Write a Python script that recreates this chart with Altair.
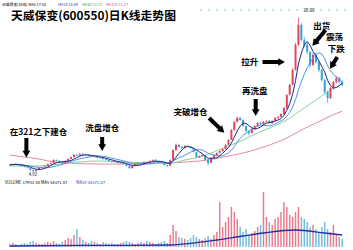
import altair as alt
import pandas as pd

FONT = "Noto Sans CJK SC"

# ---------------- data ----------------
closes = [5.97,6.12,6.05,5.97,5.82,5.67,5.52,5.22,5.07,5.22,
          5.52,5.67,5.82,6.12,6.27,6.72,6.57,6.42,6.27,6.57,
          6.87,7.17,7.47,7.38,7.62,7.47,7.55,7.32,7.17,7.22,
          7.02,7.08,6.87,6.72,6.57,6.42,6.50,6.27,6.33,6.12,
          5.82,5.52,5.82,6.12,6.27,6.20,6.42,6.38,6.57,6.72,
          6.57,6.42,6.27,5.97,5.82,6.72,8.22,8.97,8.67,8.52,
          8.82,8.75,8.52,7.92,7.17,7.32,7.47,6.72,6.27,7.02,
          7.47,7.77,8.07,8.37,8.97,9.72,11.22,12.42,13.02,12.72,
          11.82,11.07,10.77,11.37,11.82,12.27,12.12,12.42,12.57,12.27,
          12.57,13.02,13.17,13.62,14.52,16.47,17.97,20.22,23.97,26.97,
          24.72,23.97,22.92,20.97,22.47,21.42,20.22,18.72,16.92,16.02,
          17.52,18.42,19.02,18.42,17.97]
opens = [6.05,5.95,6.18,6.10,5.98,5.80,5.62,5.50,5.20,5.05,
         5.25,5.55,5.70,5.85,6.15,6.30,6.70,6.60,6.45,6.30,
         6.55,6.90,7.15,7.50,7.40,7.65,7.45,7.52,7.35,7.15,
         7.20,7.00,7.05,6.90,6.75,6.55,6.40,6.52,6.25,6.30,
         6.10,5.85,5.50,5.85,6.10,6.30,6.22,6.45,6.40,6.55,
         6.75,6.55,6.45,6.25,5.95,5.85,6.75,8.20,9.00,8.70,
         8.50,8.85,8.75,8.50,7.90,7.15,7.30,7.45,6.75,6.30,
         7.00,7.45,7.80,8.05,8.35,9.00,9.75,11.20,12.45,13.05,
         12.70,11.80,11.05,10.80,11.35,11.80,12.30,12.10,12.45,12.60,
         12.25,12.60,13.00,13.20,13.60,14.55,16.50,18.00,20.30,24.00,
         27.00,24.70,24.00,22.90,21.00,22.50,21.40,20.20,18.70,16.90,
         16.00,17.50,18.40,19.00,18.45]
highs = [6.15,6.20,6.25,6.15,6.05,5.85,5.70,5.55,5.28,5.30,
         5.60,5.75,5.90,6.20,6.35,6.85,6.80,6.65,6.50,6.65,
         6.95,7.25,7.60,7.60,7.75,7.72,7.65,7.58,7.40,7.30,
         7.25,7.15,7.10,6.95,6.80,6.60,6.58,6.55,6.40,6.35,
         6.15,5.90,5.88,6.20,6.35,6.38,6.50,6.50,6.65,6.80,
         6.82,6.60,6.50,6.30,6.00,6.80,8.30,9.20,9.10,8.80,
         8.95,8.95,8.80,8.55,7.95,7.40,7.55,7.50,6.80,7.10,
         7.55,7.85,8.15,8.45,9.05,9.85,11.35,12.55,13.30,13.15,
         12.80,11.90,11.15,11.50,11.95,12.40,12.45,12.55,12.75,12.70,
         12.70,13.15,13.30,13.75,14.70,16.60,18.20,20.50,24.30,28.08,
         27.20,25.20,24.30,23.10,22.80,22.80,21.70,20.40,18.90,17.10,
         17.70,18.60,19.30,19.20,18.60]
lows = [5.90,5.90,6.05,5.92,5.78,5.60,5.45,5.15,4.92,5.00,
        5.20,5.50,5.65,5.80,6.10,6.25,6.50,6.35,6.20,6.25,
        6.50,6.85,7.10,7.30,7.35,7.40,7.40,7.25,7.10,7.08,
        6.95,6.95,6.80,6.65,6.50,6.35,6.35,6.20,6.20,6.05,
        5.75,5.40,5.45,5.80,6.05,6.15,6.18,6.30,6.35,6.50,
        6.50,6.35,6.20,5.90,5.70,5.80,6.70,8.10,8.60,8.40,
        8.45,8.65,8.45,7.85,7.10,7.05,7.25,6.65,5.90,6.25,
        6.95,7.40,7.75,8.00,8.30,8.95,9.70,11.10,12.35,12.60,
        11.70,10.95,10.40,10.70,11.25,11.70,12.00,12.00,12.35,12.15,
        12.15,12.50,12.90,13.10,13.50,14.40,16.40,17.90,20.10,23.80,
        24.50,23.60,22.60,20.60,20.80,21.20,19.90,18.50,16.60,15.30,
        15.90,17.30,18.20,18.20,17.80]
volumes = [15,20,15,10,15,20,15,25,30,20,15,15,20,25,20,
           30,20,15,25,35,45,40,60,90,50,35,25,20,30,25,
           20,15,25,20,15,20,15,15,20,25,30,25,20,15,20,
           25,20,30,25,20,15,20,25,30,20,
           60,110,80,50,45,40,35,45,60,50,40,35,45,55,40,
           60,75,225,100,125,150,200,175,140,100,75,90,60,70,80,
           100,110,275,150,125,110,140,150,175,225,200,160,150,175,200,
           150,140,125,100,110,90,75,100,125,90,75,110,60,50,40]

ma_long_idx = [0,5,10,15,20,30,40,50,55,60,65,70,75,80,85,90,95,100,105,110,114]
ma_long_val = [7.47,7.17,6.87,6.42,6.27,6.12,6.12,6.27,6.27,6.42,6.57,6.87,7.32,7.77,8.37,9.12,10.02,11.22,12.27,13.32,14.07]
ma_mid_idx = [0,10,20,30,40,50,55,60,65,70,75,80,85,90,95,100,105,110,114]
ma_mid_val = [5.82,5.82,6.27,6.57,6.42,6.27,6.27,6.72,7.17,7.92,8.82,9.72,10.77,11.67,12.72,14.22,15.72,17.22,18.12]
volma_idx = [0,25,40,55,62,71,80,87,98,108,114]
volma_val = [5,8,8,10,18,35,55,70,85,70,60]

label_text = ["在321之下建仓", "洗盘增仓", "突破增仓", "再洗盘", "拉升", "出货", "震荡", "下跌"]
label_idx = [9.83, 31.67, 62.0, 84.0, 82.33, 107.0, 111.33, 112.0]
label_price = [10.92, 11.52, 13.92, 17.07, 21.42, 26.82, 25.17, 23.37]

arrow_x0 = [5.667, 31.667, 68.333, 84.333, 86.667, 108.333, 112.333]
arrow_y0 = [10.02, 10.17, 13.02, 15.87, 21.42, 26.22, 22.17]
arrow_x1 = [5.667, 31.667, 72.467, 84.333, 92.833, 104.767, 110.633]
arrow_y1 = [7.77, 8.745, 11.28, 13.995, 21.42, 24.36, 20.97]
arrow_ang = [180, 180, 133, 180, 90, 221, 212]

UP, DOWN = "#e0445f", "#35a3d6"

# ---------------- tables ----------------
n = len(closes)
df = pd.DataFrame({"i": list(range(n)), "open": opens, "close": closes,
                   "high": highs, "low": lows, "vol": volumes})
df["col"] = [UP if c >= o else DOWN for o, c in zip(opens, closes)]
df["v0"] = 0

long_df = pd.DataFrame({"i": ma_long_idx, "v": ma_long_val})
mid_df = pd.DataFrame({"i": ma_mid_idx, "v": ma_mid_val})
vma_df = pd.DataFrame({"i": volma_idx, "v": volma_val})
lab_df = pd.DataFrame({"t": label_text, "i": label_idx, "p": label_price})
arr_df = pd.DataFrame({"x0": arrow_x0, "y0": arrow_y0, "x1": arrow_x1,
                       "y1": arrow_y1, "ang": arrow_ang})

XDOM = [-5 / 3, 116]
PDOM = [-6.78, 30.72]
VDOM = [-15, 1235]


def X(f):
    return alt.X(f"{f}:Q", scale=alt.Scale(domain=XDOM, nice=False, zero=False), axis=None)


def Y(f):
    return alt.Y(f"{f}:Q", scale=alt.Scale(domain=PDOM, nice=False, zero=False), axis=None)


def VY(f):
    return alt.Y(f"{f}:Q", scale=alt.Scale(domain=VDOM, nice=False, zero=False), axis=None)


base = alt.Chart(df)
wicks = base.mark_rule(strokeWidth=0.8).encode(
    x=X("i"), y=Y("low"), y2="high", color=alt.Color("col:N", scale=None))
bodies = base.mark_bar(size=2).encode(
    x=X("i"), y=Y("open"), y2="close", color=alt.Color("col:N", scale=None))
ma5 = base.transform_window(
    m="mean(close)", frame=[-4, 0], sort=[alt.SortField("i")]
).mark_line(color="#1d2a85", strokeWidth=1).encode(x=X("i"), y=Y("m"))
ma10 = base.transform_window(
    m="mean(close)", frame=[-9, 0], sort=[alt.SortField("i")]
).mark_line(color="#4f95e0", strokeWidth=1).encode(x=X("i"), y=Y("m"))
ma_long = alt.Chart(long_df).mark_line(color="#e58aa2", strokeWidth=1, interpolate="monotone").encode(
    x=X("i"), y=Y("v"))
ma_mid = alt.Chart(mid_df).mark_line(color="#86d3a6", strokeWidth=1, interpolate="monotone").encode(
    x=X("i"), y=Y("v"))

volbars = base.mark_bar(size=1.5, opacity=0.7).encode(
    x=X("i"), y=VY("vol"), y2="v0", color=alt.Color("col:N", scale=None))
volma = alt.Chart(vma_df).mark_line(color="#2a2f9a", strokeWidth=1.3, interpolate="monotone").encode(
    x=X("i"), y=VY("v"))

labels = alt.Chart(lab_df).mark_text(
    font=FONT, fontSize=8.5, fontWeight="bold", color="black", baseline="middle", align="center"
).encode(x=X("i"), y=Y("p"), text="t:N")

shafts = alt.Chart(arr_df).mark_rule(strokeWidth=4, color="black").encode(
    x=X("x0"), y=Y("y0"), x2="x1", y2="y1")
heads = alt.Chart(arr_df).mark_point(shape="triangle", filled=True, size=60, color="black", opacity=1).encode(
    x=X("x1"), y=Y("y1"), angle=alt.Angle("ang:Q", scale=None))


def txt(text, x, y, size, color="black", weight="normal", align="left"):
    return alt.Chart(pd.DataFrame({"t": [text]})).mark_text(
        font=FONT, fontSize=size, fontWeight=weight, color=color, align=align, baseline="middle"
    ).encode(x=alt.value(x), y=alt.value(y), text="t:N")


title = txt("天威保变(600550)日K线走势图", 11, 15.5, 11.8, weight="bold")
h1 = txt("天威保变(日线) MA5 17.45", 2, 4.5, 3.8)
h2 = txt("MA20 15.09", 58, 4.5, 3.8, color="#2040c0")
h3 = txt("MA60 13.37", 82, 4.5, 3.8, color="#3aa860")
h4 = txt("MA120 11.27", 106, 4.5, 3.8, color="#d0507a")
v1 = txt("VOLUME 17953.54  MA5 54371.87", 5, 183, 4.2)
v2 = txt("MA10 54371.87", 76, 183, 4.2, color="#2040c0")
low_lab = txt("4.92", 33, 174.5, 4.5, align="center")
peak_lab = txt("28.08", 309, 11, 4.5, align="center")
topdots = alt.Chart(pd.DataFrame({"a": [0]})).mark_rule(
    color="#7fcf9f", strokeWidth=1, strokeDash=[2, 6]
).encode(x=alt.value(200), x2=alt.value(350), y=alt.value(10))

chart = alt.layer(
    ma_long, ma_mid, volbars, volma, wicks, bodies, ma10, ma5,
    shafts, heads, labels, title, h1, h2, h3, h4, v1, v2, low_lab, peak_lab, topdots
).resolve_scale(y="independent").properties(
    width=353, height=250,
    autosize=alt.AutoSizeParams(type="fit", contains="padding"),
    padding=0, background="white"
).configure_view(stroke=None)

chart.save("out.html", embed_options={"renderer": "svg", "actions": False})
